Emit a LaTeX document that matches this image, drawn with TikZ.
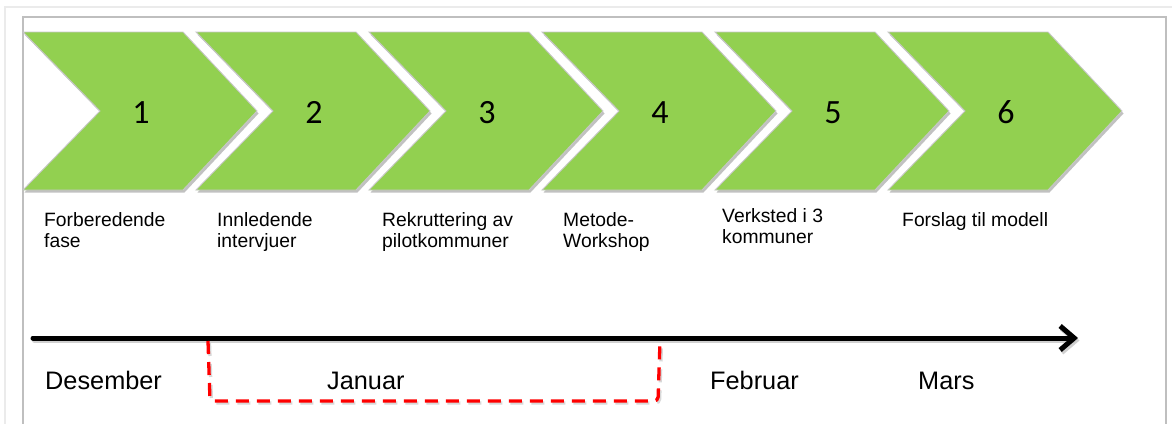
\documentclass[tikz,border=0pt]{standalone}
\usepackage{fontspec}
\setmainfont{Liberation Sans}
\newfontfamily\numfont{Carlito}
\usetikzlibrary{arrows.meta,shadows}
\definecolor{chev}{HTML}{92D050}
\definecolor{outerframe}{HTML}{EBEBEB}
\definecolor{innerframe}{HTML}{BFBFBF}
\begin{document}
\begin{tikzpicture}[x=1pt,y=-1pt,
  chevron/.style={fill=chev, draw=black!22, line width=0.9pt,
    drop shadow={shadow xshift=1.5pt, shadow yshift=-2.5pt, opacity=0.4, fill=black!60}},
  num/.style={font=\numfont\fontsize{34}{34}\selectfont, inner sep=0pt},
  steplabel/.style={font=\fontsize{19.3}{20.5}\selectfont, align=left, anchor=north west, inner sep=0pt},
  month/.style={font=\fontsize{25.3}{28}\selectfont, anchor=base west, inner sep=0pt},
  timeline/.style={line width=5pt, -{Straight Barb[length=14pt,width=24pt]}, line cap=round},
  timeshadow/.style={line width=5pt, black!30, opacity=0.6, -{Straight Barb[length=14pt,width=24pt]}, line cap=round},
  reddash/.style={red, line width=3.3pt, dash pattern=on 13pt off 8pt, rounded corners=4pt},
  redshadow/.style={black!30, opacity=0.5, line width=3.3pt, dash pattern=on 13pt off 8pt, rounded corners=4pt}]
\useasboundingbox (0,0) rectangle (1172,423);
\fill[white] (0,0) rectangle (1172,423);
% frames
\draw[outerframe, line width=2pt] (5,430) -- (5,7) -- (1180,7);
\draw[innerframe, line width=1.2pt] (23,430) -- (23,17) -- (1166,17) -- (1166,430);
% chevrons
\foreach \i in {1,...,6} {
  \pgfmathsetmacro{\xo}{23+(\i-1)*173}
  \path[chevron] (\xo,32) -- (\xo+160,32) -- (\xo+234,111) -- (\xo+160,190) -- (\xo,190) -- (\xo+77,111) -- cycle;
  \node[num] (n\i) at (\xo+118,112.5) {\i};
}
% step labels
\node[steplabel] (l1) at (44,212.5) {Forberedende\\fase};
\node[steplabel] (l2) at (217,212.5) {Innledende\\intervjuer};
\node[steplabel] (l3) at (382,212.5) {Rekruttering av\\pilotkommuner};
\node[steplabel] (l4) at (563,212.5) {Metode-\\Workshop};
\node[steplabel] (l5) at (722,208.5) {Verksted i 3\\kommuner};
\node[steplabel] (l6) at (902,212.5) {Forslag til modell};
% timeline
\coordinate (tstart) at (33,338);
\coordinate (tend) at (1078,338);
\coordinate (tstartS) at (34.5,340.5);
\coordinate (tendS) at (1079.5,340.5);
\draw[timeshadow] (tstartS) -- (tendS);
\draw[timeline] (tstart) -- (tend);
% January bracket
\coordinate (ja) at (208,341);
\coordinate (jb) at (660,341);
\coordinate (jaS) at (209.5,343);
\coordinate (jbS) at (661.5,343);
\draw[redshadow] (jaS) -- (211.5,403) -- (659.5,403) -- (jbS);
\draw[reddash] (ja) -- (210,401) -- (658,401) -- (jb);
% months
\node[month] (m1) at (45,389) {Desember};
\node[month] (m2) at (327,389) {Januar};
\node[month] (m3) at (710,389) {Februar};
\node[month] (m4) at (918,389) {Mars};
\end{tikzpicture}
\end{document}
